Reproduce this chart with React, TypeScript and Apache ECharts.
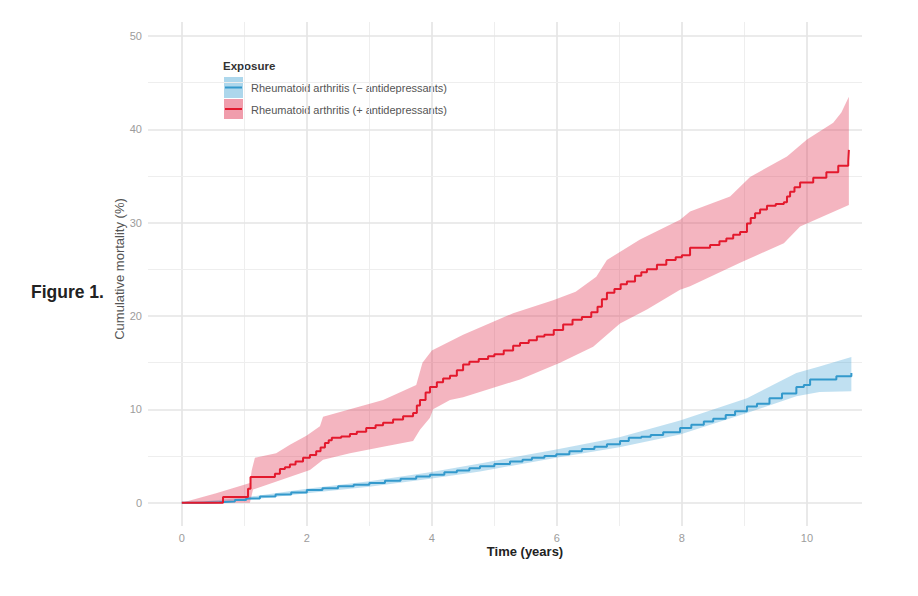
import React, { useEffect, useRef } from "react";
import * as echarts from "echarts";

const xTickLabels = [0, 2, 4, 6, 8, 10];
const yTickLabels = [0, 10, 20, 30, 40, 50];
const xMinorGrid = [1, 3, 5, 7, 9];
const yMinorGrid = [5, 15, 25, 35, 45];

const seriesNames = [
  "Rheumatoid arthritis (\u2212 antidepressants)",
  "Rheumatoid arthritis (+ antidepressants)",
];

// Rheumatoid arthritis (+ antidepressants): [time, cumulative mortality %]
const redLine: number[][] = [
  [0, 0], [0.66, 0.6], [1.06, 1.5], [1.1, 2.75], [1.49, 3.1], [1.57, 3.6], [1.65, 3.8],
  [1.73, 4.1], [1.82, 4.4], [1.94, 4.8], [2.05, 5.1], [2.15, 5.5], [2.22, 5.9], [2.29, 6.4],
  [2.35, 6.7], [2.4, 6.95], [2.55, 7.1], [2.69, 7.35], [2.8, 7.6], [2.95, 8.0], [3.1, 8.3],
  [3.22, 8.55], [3.38, 8.9], [3.54, 9.25], [3.7, 9.6], [3.76, 10.4], [3.81, 11.0], [3.9, 11.8],
  [3.97, 12.4], [4.08, 12.9], [4.18, 13.3], [4.29, 13.6], [4.4, 14.2], [4.5, 14.8], [4.6, 15.1],
  [4.75, 15.4], [4.9, 15.7], [5.0, 15.9], [5.15, 16.3], [5.3, 16.8], [5.41, 17.1], [5.55, 17.4],
  [5.68, 17.8], [5.8, 18.0], [5.95, 18.5], [6.1, 19.1], [6.25, 19.6], [6.4, 19.9], [6.55, 20.4],
  [6.65, 21.0], [6.72, 21.8], [6.8, 22.5], [6.92, 22.9], [7.02, 23.4], [7.12, 23.7], [7.25, 24.3],
  [7.35, 24.7], [7.44, 25.0], [7.6, 25.5], [7.75, 26.0], [7.9, 26.3], [8.0, 26.5], [8.13, 27.3],
  [8.3, 27.3], [8.45, 27.6], [8.6, 28.0], [8.71, 28.3], [8.82, 28.7], [8.93, 29.0], [9.04, 29.9],
  [9.1, 30.5], [9.17, 31.0], [9.25, 31.4], [9.36, 31.8], [9.5, 32.0], [9.63, 32.2], [9.68, 32.8],
  [9.73, 33.3], [9.8, 33.8], [9.89, 34.3], [10.1, 34.8], [10.31, 35.4], [10.5, 36.1], [10.66, 36.6],
  [10.67, 37.8],
];
const redUpper: number[][] = [
  [0, 0], [0.55, 1.0], [1.09, 2.1], [1.12, 3.5], [1.17, 4.8], [1.51, 5.3], [1.73, 6.2], [2.0, 7.2],
  [2.21, 8.2], [2.26, 9.2], [2.69, 10.0], [3.22, 11.0], [3.75, 12.6], [3.85, 15.0], [4.0, 16.3],
  [4.5, 18.0], [5.3, 20.3], [5.94, 21.7], [6.3, 22.6], [6.63, 24.2], [6.8, 26.0], [7.33, 28.2],
  [7.97, 30.3], [8.13, 31.2], [8.77, 32.8], [9.09, 34.9], [9.68, 37.1], [10.0, 38.9], [10.42, 40.7],
  [10.55, 41.8], [10.67, 43.5],
];
const redLower: number[][] = [
  [0, 0], [1.09, 0], [1.14, 1.4], [1.62, 2.5], [2.05, 3.5], [2.26, 4.6], [2.69, 5.3], [3.22, 6.0],
  [3.7, 6.6], [3.81, 7.8], [3.97, 9.1], [4.02, 10.0], [4.29, 11.0], [4.5, 11.3], [5.41, 13.2],
  [6.05, 15.0], [6.58, 16.7], [7.01, 19.2], [7.44, 20.7], [7.97, 22.8], [8.13, 23.2], [8.93, 25.7],
  [9.63, 27.8], [9.89, 29.6], [10.67, 31.9],
];

// Rheumatoid arthritis (- antidepressants)
const blueLine: number[][] = [
  [0, 0], [0.35, 0.05], [0.6, 0.12], [0.85, 0.28], [1.03, 0.45], [1.25, 0.65], [1.5, 0.88],
  [1.75, 1.1], [2.0, 1.35], [2.25, 1.55], [2.5, 1.75], [2.75, 1.92], [3.0, 2.1], [3.25, 2.35],
  [3.5, 2.55], [3.75, 2.8], [3.97, 3.0], [4.2, 3.25], [4.4, 3.45], [4.6, 3.7], [4.77, 3.9],
  [5.0, 4.15], [5.25, 4.4], [5.45, 4.6], [5.6, 4.8], [5.8, 5.0], [5.99, 5.2], [6.2, 5.5],
  [6.4, 5.75], [6.6, 6.0], [6.8, 6.25], [7.01, 6.6], [7.15, 6.95], [7.35, 7.05], [7.5, 7.25],
  [7.7, 7.55], [7.97, 8.0], [8.15, 8.35], [8.35, 8.7], [8.5, 9.0], [8.7, 9.4], [8.85, 9.8],
  [9.04, 10.3], [9.2, 10.6], [9.4, 11.2], [9.6, 11.7], [9.83, 12.4], [9.95, 12.6], [10.05, 13.2],
  [10.47, 13.55], [10.71, 13.9],
];
const blueUpper: number[][] = [
  [0, 0], [0.3, 0.1], [1.0, 0.55], [2.0, 1.5], [3.0, 2.3], [3.97, 3.25], [4.77, 4.2], [5.99, 5.7],
  [7.0, 7.0], [7.97, 8.8], [9.04, 11.2], [9.83, 13.9], [10.2, 14.6], [10.71, 15.6],
];
const blueLower: number[][] = [
  [0, 0], [0.3, 0], [1.0, 0.25], [2.0, 1.0], [3.0, 1.7], [3.97, 2.55], [4.77, 3.35], [5.99, 4.8],
  [7.0, 5.95], [7.97, 7.3], [9.04, 9.6], [9.83, 11.4], [10.2, 11.85], [10.71, 11.95],
];

const FONT = "'Liberation Sans', Arial, sans-serif";
const RED = "#e3192d";
const BLUE = "#3399cc";
const RED_FILL = "rgba(225,60,90,0.38)";
const BLUE_FILL = "rgba(60,160,210,0.32)";

function bandSeries(upper: number[][], lower: number[][], fill: string, z: number) {
  return {
    type: "custom",
    z,
    silent: true,
    data: [[0, 0]],
    renderItem: (_params: any, api: any) => {
      const pts: number[][] = [];
      upper.forEach((p) => pts.push(api.coord(p)));
      for (let i = lower.length - 1; i >= 0; i--) pts.push(api.coord(lower[i]));
      return { type: "polygon", shape: { points: pts }, style: { fill, stroke: null } };
    },
  };
}

export default function App() {
  const ref = useRef<HTMLDivElement>(null);
  useEffect(() => {
    document.body.style.margin = "0";
    const chart = echarts.init(ref.current!, null, { renderer: "svg" });
    const majorLine = { color: "#e4e4e4", width: 1.6, type: "solid" };
    const minorLine = { color: "#eeeeee", width: 1, type: "solid" };
    const gridMarks = [
      ...xTickLabels.map((v) => ({ xAxis: v, lineStyle: majorLine })),
      ...xMinorGrid.map((v) => ({ xAxis: v, lineStyle: minorLine })),
      ...yTickLabels.map((v) => ({ yAxis: v, lineStyle: majorLine })),
      ...yMinorGrid.map((v) => ({ yAxis: v, lineStyle: minorLine })),
    ];
    chart.setOption({
      animation: false,
      textStyle: { fontFamily: FONT },
      grid: { left: 148, top: 22, width: 714, height: 504, containLabel: false },
      xAxis: {
        type: "value",
        min: -0.54,
        max: 10.88,
        axisLine: { show: false },
        axisTick: { show: false },
        splitLine: { show: false },
        axisLabel: { customValues: xTickLabels, color: "#9c9c9c", fontSize: 11, margin: 6, fontFamily: FONT },
      },
      yAxis: {
        type: "value",
        min: -2.5,
        max: 51.5,
        axisLine: { show: false },
        axisTick: { show: false },
        splitLine: { show: false },
        axisLabel: { customValues: yTickLabels, color: "#9c9c9c", fontSize: 11, margin: 6, fontFamily: FONT },
      },
      series: [
        {
          type: "line",
          z: 0,
          data: [[0, 0]],
          symbol: "none",
          silent: true,
          lineStyle: { width: 0, opacity: 0 },
          markLine: { silent: true, symbol: "none", label: { show: false }, data: gridMarks, z: 0 },
        },
        bandSeries(blueUpper, blueLower, BLUE_FILL, 1),
        bandSeries(redUpper, redLower, RED_FILL, 1),
        {
          name: seriesNames[0],
          type: "line",
          z: 3,
          step: "end",
          data: blueLine,
          symbol: "none",
          lineStyle: { color: BLUE, width: 2 },
        },
        {
          name: seriesNames[1],
          type: "line",
          z: 3,
          step: "end",
          data: redLine,
          symbol: "none",
          lineStyle: { color: RED, width: 2 },
        },
      ],
      graphic: [
        {
          type: "text",
          x: 31,
          y: 292,
          style: { text: "Figure 1.", font: `bold 17.5px ${FONT}`, fill: "#222", verticalAlign: "middle" },
        },
        {
          type: "text",
          x: 119,
          y: 269,
          rotation: Math.PI / 2,
          style: {
            text: "Cumulative mortality (%)",
            font: `13px ${FONT}`,
            fill: "#555",
            align: "center",
            verticalAlign: "middle",
          },
        },
        {
          type: "text",
          x: 525,
          y: 551,
          style: {
            text: "Time (years)",
            font: `bold 13px ${FONT}`,
            fill: "#222",
            align: "center",
            verticalAlign: "middle",
          },
        },
        {
          type: "text",
          x: 223,
          y: 66,
          style: { text: "Exposure", font: `bold 11.5px ${FONT}`, fill: "#333", verticalAlign: "middle" },
        },
        { type: "rect", shape: { x: 224, y: 77, width: 19, height: 21 }, style: { fill: "rgba(60,160,210,0.42)" } },
        { type: "line", shape: { x1: 225, y1: 87.5, x2: 242, y2: 87.5 }, style: { stroke: BLUE, lineWidth: 2 } },
        { type: "rect", shape: { x: 224, y: 99, width: 19, height: 20 }, style: { fill: "rgba(225,60,90,0.5)" } },
        { type: "line", shape: { x1: 225, y1: 109, x2: 242, y2: 109 }, style: { stroke: RED, lineWidth: 2 } },
        {
          type: "text",
          x: 251,
          y: 88,
          style: { text: seriesNames[0], font: `11px ${FONT}`, fill: "#555", verticalAlign: "middle" },
        },
        {
          type: "text",
          x: 251,
          y: 110,
          style: { text: seriesNames[1], font: `11px ${FONT}`, fill: "#555", verticalAlign: "middle" },
        },
      ],
    });
    return () => chart.dispose();
  }, []);
  return <div ref={ref} style={{ position: "absolute", left: 0, top: 0, width: 918, height: 596 }} />;
}
